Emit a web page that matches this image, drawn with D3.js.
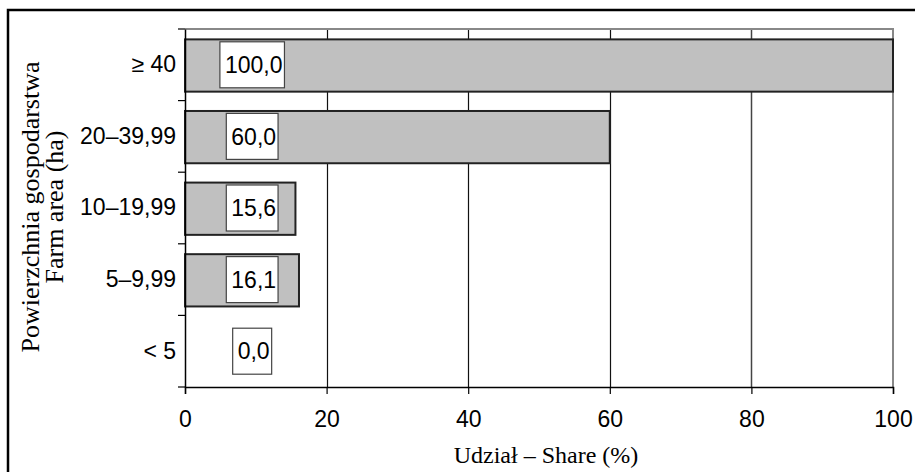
<!DOCTYPE html>
<html>
<head>
<meta charset="utf-8">
<script src="https://cdn.jsdelivr.net/npm/d3@7"></script>
<style>
  body { margin: 0; background: #fff; }
  .tick text { font-family: "Liberation Sans", Arial, sans-serif; }
</style>
</head>
<body>
<div id="chart"></div>
<script>
// farm area classes, top to bottom as in the figure
var categories = ["≥ 40", "20–39,99", "10–19,99", "5–9,99", "< 5"];
var shares = [100.0, 60.0, 15.6, 16.1, 0.0];
var valueLabels = ["100,0", "60,0", "15,6", "16,1", "0,0"];
var xTicks = [0, 20, 40, 60, 80, 100];

(function () {
    var width = 915, height = 472;
    var plot = { left: 185, right: 893, top: 29, bottom: 387 };

    var svg = d3.select("#chart")
                .append("svg")
                .attr("width", width)
                .attr("height", height);

    // outer frame
    svg.append("rect")
        .attr("x", 8).attr("y", 10)
        .attr("width", 920).attr("height", 480)
        .attr("fill", "none")
        .attr("stroke", "#000")
        .attr("stroke-width", 2.5);

    var xScale = d3.scaleLinear()
                   .domain([0, 100])
                   .range([plot.left, plot.right]);

    var yScale = d3.scaleBand()
                   .domain(categories)
                   .range([plot.top, plot.bottom]);

    var step = yScale.step();

    // vertical gridlines
    svg.append("g")
        .selectAll("line")
        .data(xTicks.filter(function (d) { return d > 0 && d < 100; }))
        .enter()
        .append("line")
        .attr("x1", function (d) { return Math.round(xScale(d)) + 0.5; })
        .attr("x2", function (d) { return Math.round(xScale(d)) + 0.5; })
        .attr("y1", plot.top)
        .attr("y2", plot.bottom)
        .attr("stroke", function (d) { return d == 80 ? "#444" : "#111"; })
        .attr("stroke-width", function (d) { return d == 80 ? 1.5 : 1.2; });

    // plot area border (top and right), grey
    svg.append("path")
        .attr("d", "M" + plot.left + "," + plot.top + "H" + xScale(100) + "V" + plot.bottom)
        .attr("fill", "none")
        .attr("stroke", "#888")
        .attr("stroke-width", 2);

    // bars
    svg.selectAll("rect.bar")
        .data(categories)
        .enter()
        .append("rect")
        .attr("class", "bar")
        .attr("x", xScale(0))
        .attr("y", function (d) { return yScale(d) + step * 0.145; })
        .attr("height", step * 0.73)
        .attr("width", function (d, i) { return xScale(shares[i]) - xScale(0); })
        .attr("fill", "#c0c0c0")
        .attr("stroke", function (d, i) { return shares[i] > 0 ? "#222" : "none"; })
        .attr("stroke-width", 2);

    // value labels in white boxes
    var lab = svg.selectAll("g.lab")
        .data(categories)
        .enter()
        .append("g")
        .attr("class", "lab")
        .attr("transform", function (d) {
            return "translate(" + xScale(9.7) + "," + (yScale(d) + step / 2) + ")";
        });

    lab.append("text")
        .text(function (d, i) { return valueLabels[i]; })
        .attr("text-anchor", "middle")
        .attr("dy", "0.36em")
        .style("font-family", "'Liberation Sans', Arial, sans-serif")
        .style("font-size", "23px")
        .attr("fill", "#000");

    lab.each(function () {
        var g = d3.select(this);
        var bb = g.select("text").node().getBBox();
        g.insert("rect", "text")
            .attr("x", bb.x - 5)
            .attr("y", -23)
            .attr("width", bb.width + 7)
            .attr("height", 46)
            .attr("fill", "#fff")
            .attr("stroke", "#444")
            .attr("stroke-width", 1.2);
    });

    // x axis
    var xAxis = svg.append("g")
        .attr("transform", "translate(0," + plot.bottom + ")")
        .call(d3.axisBottom(xScale).tickValues(xTicks).tickSize(7).tickPadding(17));
    xAxis.select(".domain").attr("stroke", "#000").attr("stroke-width", 1.5);
    xAxis.selectAll(".tick line").attr("stroke", "#000").attr("stroke-width", 1.2);
    xAxis.selectAll(".tick text").style("font-size", "23px").attr("fill", "#000");

    // y axis: ticks sit on band boundaries
    var yAxis = svg.append("g")
        .attr("transform", "translate(" + plot.left + ",0)")
        .call(d3.axisLeft(yScale).tickSize(0).tickPadding(9));
    yAxis.select(".domain").attr("stroke", "#000").attr("stroke-width", 1.5);
    yAxis.selectAll(".tick text").style("font-size", "23px").attr("fill", "#000");

    svg.append("g")
        .selectAll("line")
        .data(categories.concat([null]))
        .enter()
        .append("line")
        .attr("x1", plot.left - 7)
        .attr("x2", plot.left)
        .attr("y1", function (d, i) { return plot.top + i * step; })
        .attr("y2", function (d, i) { return plot.top + i * step; })
        .attr("stroke", "#000")
        .attr("stroke-width", 1.2);

    // axis titles
    svg.append("text")
        .attr("x", 546)
        .attr("y", 463)
        .attr("text-anchor", "middle")
        .style("font-family", "'Liberation Serif', 'Times New Roman', serif")
        .style("font-size", "24px")
        .text("Udział – Share (%)");

    var yTitle = svg.append("text")
        .attr("transform", "translate(0,207) rotate(-90)")
        .attr("text-anchor", "middle")
        .style("font-family", "'Liberation Serif', 'Times New Roman', serif")
        .style("font-size", "26px");
    yTitle.append("tspan").attr("x", 0).attr("y", 39).text("Powierzchnia gospodarstwa");
    yTitle.append("tspan").attr("x", 0).attr("y", 63).text("Farm area (ha)");
})();
</script>
</body>
</html>
